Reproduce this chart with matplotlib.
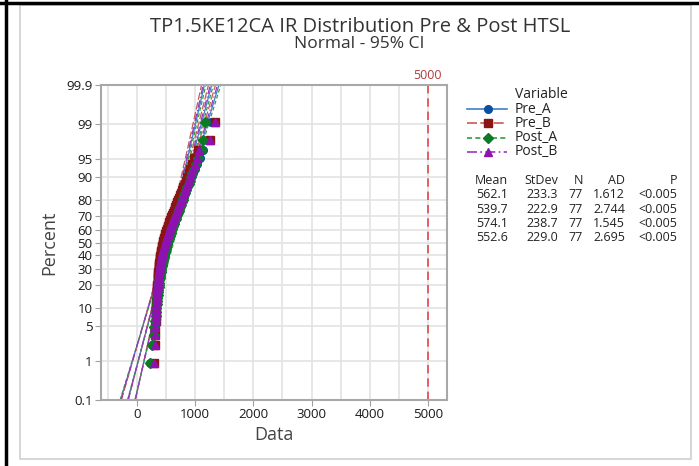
import numpy as np
import matplotlib
matplotlib.use('Agg')
import matplotlib.pyplot as plt
from matplotlib.lines import Line2D
from matplotlib.patches import Rectangle
from statistics import NormalDist

plt.rcParams['font.family'] = ['Open Sans', 'DejaVu Sans']

# sorted sample values (77 each)
pre_a = [225, 265, 290, 305, 315, 322, 328, 333, 338, 342,
         346, 350, 354, 358, 362, 366, 370, 374, 378, 382,
         386, 390, 395, 400, 405, 410, 415, 420, 426, 432,
         438, 444, 450, 457, 464, 471, 478, 486, 494, 502,
         511, 520, 529, 538, 548, 558, 568, 579, 590, 601,
         613, 625, 637, 650, 663, 677, 691, 706, 721, 737,
         753, 770, 788, 806, 825, 845, 866, 888, 910, 935,
         960, 990, 1030, 1080, 1130, 1200, 1270]
pre_b = [300, 305, 310, 315, 318, 321, 324, 327, 330, 332,
         335, 338, 340, 343, 346, 349, 352, 355, 358, 361,
         364, 367, 370, 373, 377, 381, 385, 389, 393, 397,
         401, 406, 411, 416, 421, 427, 433, 440, 447, 454,
         462, 470, 478, 487, 496, 505, 515, 525, 535, 546,
         557, 568, 580, 592, 605, 618, 632, 646, 661, 676,
         692, 708, 725, 742, 760, 778, 798, 818, 840, 862,
         885, 910, 940, 975, 1040, 1255, 1340]
post_a = [225, 252, 285, 300, 312, 320, 327, 333, 339, 344,
          349, 354, 359, 364, 369, 374, 379, 384, 389, 394,
          399, 404, 410, 416, 422, 428, 434, 440, 447, 454,
          461, 468, 475, 482, 490, 498, 506, 514, 522, 531,
          540, 549, 558, 567, 577, 587, 597, 607, 618, 629,
          640, 651, 663, 675, 687, 700, 713, 726, 740, 754,
          768, 783, 798, 814, 830, 847, 865, 885, 905, 925,
          950, 980, 1010, 1050, 1110, 1140, 1170]
post_b = [300, 305, 310, 314, 318, 322, 326, 330, 333, 336,
          340, 343, 346, 350, 353, 357, 360, 364, 368, 372,
          376, 380, 384, 388, 393, 398, 403, 408, 413, 419,
          425, 431, 437, 444, 451, 458, 466, 474, 482, 491,
          500, 509, 518, 528, 538, 548, 558, 569, 580, 591,
          603, 615, 627, 640, 653, 666, 680, 694, 709, 724,
          740, 756, 773, 790, 808, 827, 846, 866, 887, 910,
          935, 960, 990, 1030, 1060, 1255, 1340]

names  = ['Pre_A', 'Pre_B', 'Post_A', 'Post_B']
means  = [562.1, 539.7, 574.1, 552.6]
stdevs = [233.3, 222.9, 238.7, 229.0]
counts = [77, 77, 77, 77]
ads    = ['1.612', '2.744', '1.545', '2.695']
pvals  = ['<0.005', '<0.005', '<0.005', '<0.005']
pct_ticks = [0.1, 1, 5, 10, 20, 30, 40, 50, 60, 70, 80, 90, 95, 99, 99.9]
x_ticks = [0, 1000, 2000, 3000, 4000, 5000]
ref_x = 5000

line_colors   = ['#3f7fcc', '#c45a5a', '#2e9e3e', '#9a35c4']
marker_colors = ['#0b4ea2', '#8b1414', '#0a7a25', '#8e12b0']
markers       = ['o', 's', 'D', '^']
styles        = ['-', (0, (6, 2)), (0, (3, 2)), (0, (6, 2, 1, 2))]

nd = NormalDist()
def z(p):
    return nd.inv_cdf(p)

fig = plt.figure(figsize=(6.99, 4.66), dpi=100)
W, H = 699.0, 466.0

# outer frames
fig.add_artist(Line2D([0, 1], [1 - 2.5 / H, 1 - 2.5 / H], color='black', lw=2.5))
fig.add_artist(Line2D([5.5 / W, 5.5 / W], [0, 1], color='black', lw=2.5))
fig.add_artist(Rectangle((19.5 / W, 1 - 459 / H), (691 - 19.5) / W, (459 - 5) / H,
                         fill=False, ec='#d0d0d0', lw=1.2, transform=fig.transFigure))

ax = fig.add_axes([101 / W, 1 - 400 / H, 346 / W, 315 / H])
zlo, zhi = z(0.001), z(0.999)
ax.set_xlim(-620, 5330)
ax.set_ylim(zlo, zhi)

ax.set_yticks([z(p / 100) for p in pct_ticks])
ax.set_yticklabels([('%g' % p) for p in pct_ticks])
ax.set_xticks(x_ticks)
ax.set_xticks(np.arange(-500, 5500, 500), minor=True)
ax.grid(True, which='both', axis='x', color='#e3e3e3', lw=1.2)
ax.grid(True, which='major', axis='y', color='#e3e3e3', lw=1.2)
ax.set_axisbelow(True)
ax.tick_params(which='major', direction='out', length=4, color='#a0a0a0',
               labelsize=9.5, labelcolor='#1a1a1a', pad=2)
ax.tick_params(which='minor', length=0)
for s in ax.spines.values():
    s.set_color('#a8a8a8')
    s.set_linewidth(1.5)

ax.set_xlabel('Data', fontsize=13, color='#444444', labelpad=3)
ax.set_ylabel('Percent', fontsize=13, color='#444444', labelpad=6)

# fit lines and 95% CI
zz = np.linspace(zlo, zhi, 200)
for mu, sd, n, lc, ls in zip(means, stdevs, counts, line_colors, styles):
    fit = mu + zz * sd
    se = sd * np.sqrt(1.0 / n + zz ** 2 / (2.0 * n))
    for xs in (fit, fit - 1.96 * se, fit + 1.96 * se):
        ax.plot(xs, zz, color=lc, ls=ls, lw=0.9, zorder=2)

# data points
for data, mc, mk in zip([pre_a, pre_b, post_a, post_b], marker_colors, markers):
    n = len(data)
    pos = [z((i + 1 - 0.3) / (n + 0.4)) for i in range(n)]
    ax.plot(sorted(data), pos, ls='none', marker=mk, color=mc, ms=5.5,
            mec=mc, zorder=3, clip_on=False)

ax.axvline(ref_x, color='#e0474c', ls=(0, (5, 3)), lw=1.2, zorder=2)
ax.text(ref_x, zhi + 0.05, str(ref_x), color='#b23a3a', fontsize=9,
        ha='center', va='bottom')

# titles
fig.text(360 / W, 1 - 27 / H, 'TP1.5KE12CA IR Distribution Pre & Post HTSL',
         ha='center', va='center', fontsize=14.5, color='#333333')
fig.text(359 / W, 1 - 44 / H, 'Normal - 95% CI', ha='center', va='center',
         fontsize=12.5, color='#333333')

# legend
fig.text(515 / W, 1 - 95 / H, 'Variable', fontsize=10, va='center', color='#222222')
leg_y = [109.3, 123.3, 137.7, 151.7]
for name, yy, lc, mc, mk, ls in zip(names, leg_y, line_colors, marker_colors, markers, styles):
    fig.add_artist(Line2D([467 / W, 507 / W], [1 - yy / H] * 2, color=lc, ls=ls, lw=1.2))
    fig.add_artist(Line2D([488 / W], [1 - yy / H], marker=mk, color=mc, ms=5.5, ls='none'))
    fig.text(515 / W, 1 - yy / H, name, fontsize=10, va='center', color='#222222')

# stats table
cols_x = [508, 558, 583, 625, 677]
heads = ['Mean', 'StDev', 'N', 'AD', 'P']
for cx, hd in zip(cols_x, heads):
    fig.text(cx / W, 1 - 180 / H, hd, fontsize=9, ha='right', va='center', color='#222222')
rows_y = [195, 209.3, 223.3, 237.3]
for i, ry in enumerate(rows_y):
    vals = ['%.1f' % means[i], '%.1f' % stdevs[i], str(counts[i]), ads[i], pvals[i]]
    for cx, v in zip(cols_x, vals):
        fig.text(cx / W, 1 - ry / H, v, fontsize=9, ha='right', va='center', color='#222222')

fig.savefig('out.png', dpi=100)
